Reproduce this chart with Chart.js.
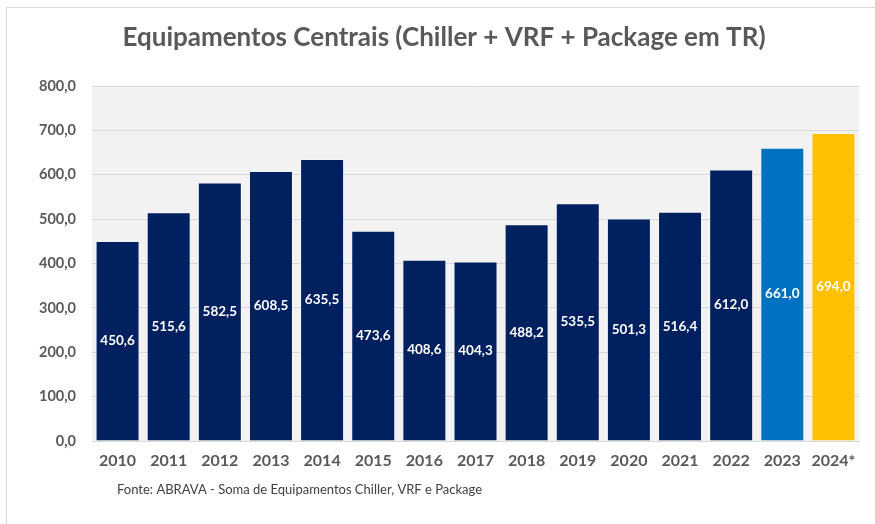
<!DOCTYPE html>
<html>
<head>
<meta charset="utf-8">
<script src="https://cdn.jsdelivr.net/npm/chart.js@4"></script>
<style>
  html, body { margin: 0; padding: 0; background: #ffffff; }
  #wrap { position: relative; width: 875px; height: 524px; overflow: hidden; }
  #frame {
    position: absolute; left: 6px; top: 7px; width: 900px; height: 600px;
    border-left: 1px solid #d9d9d9; border-top: 1px solid #d9d9d9;
  }
  canvas { position: absolute; left: 0; top: 0; }
</style>
</head>
<body>
<div id="wrap">
  <div id="frame"></div>
  <canvas id="equipamentos" width="875" height="524"></canvas>
</div>
<script>
// Categories and values (TR)
const years = ["2010", "2011", "2012", "2013", "2014", "2015", "2016", "2017",
  "2018", "2019", "2020", "2021", "2022", "2023", "2024*"];
const values = [450.6, 515.6, 582.5, 608.5, 635.5, 473.6, 408.6, 404.3,
  488.2, 535.5, 501.3, 516.4, 612.0, 661.0, 694.0];
const barColors = ["#002060", "#002060", "#002060", "#002060", "#002060",
  "#002060", "#002060", "#002060", "#002060", "#002060", "#002060",
  "#002060", "#002060", "#0070c0", "#ffc000"];

const titleText = "Equipamentos Centrais (Chiller + VRF + Package em TR)";
const sourceText = "Fonte: ABRAVA - Soma de Equipamentos Chiller, VRF e Package";

const fmt = (v) => Number(v).toFixed(1).replace(".", ",");
const FONT = "Lato, 'Open Sans', sans-serif";

// plot background, title, footnote and value labels
const decorations = {
  id: "decorations",
  beforeDraw(chart) {
    const { ctx, chartArea: a } = chart;
    ctx.save();
    ctx.fillStyle = "#f2f2f2";
    ctx.fillRect(a.left, a.top, a.right - a.left, a.bottom - a.top);
    ctx.restore();
  },
  afterDraw(chart) {
    const { ctx } = chart;
    ctx.save();
    ctx.fillStyle = "#595959";
    ctx.font = "bold 26px " + FONT;
    ctx.textAlign = "center";
    ctx.textBaseline = "middle";
    ctx.fillText(titleText, 444, 38);
    ctx.fillStyle = "#404040";
    ctx.font = "13px " + FONT;
    ctx.textAlign = "left";
    ctx.fillText(sourceText, 117, 490);
    ctx.restore();
  },
  afterDatasetsDraw(chart) {
    const { ctx } = chart;
    const meta = chart.getDatasetMeta(0);
    ctx.save();
    ctx.fillStyle = "#ffffff";
    ctx.font = "bold 13.5px " + FONT;
    ctx.textAlign = "center";
    ctx.textBaseline = "middle";
    meta.data.forEach((bar, i) => {
      ctx.fillText(fmt(values[i]), bar.x, (bar.y + bar.base) / 2);
    });
    ctx.restore();
  },
};

new Chart(document.getElementById("equipamentos"), {
  type: "bar",
  data: {
    labels: years,
    datasets: [
      {
        data: values,
        backgroundColor: barColors,
        borderColor: "rgba(255,255,255,0.25)",
        borderWidth: 1,
        barPercentage: 0.86,
        categoryPercentage: 1,
      },
    ],
  },
  options: {
    responsive: false,
    animation: false,
    layout: { padding: { top: 86, right: 16, bottom: 42, left: 0 } },
    plugins: {
      legend: { display: false },
      title: { display: false },
      tooltip: { enabled: false },
    },
    scales: {
      x: {
        grid: { display: false, drawTicks: false },
        border: { display: true, color: "#d9d9d9", width: 1 },
        ticks: {
          color: "#595959",
          font: { family: FONT, size: 16, weight: "bold" },
          padding: 10,
        },
        afterFit(scale) { scale.height = 41; },
      },
      y: {
        min: 0,
        max: 800,
        ticks: {
          stepSize: 100,
          color: "#595959",
          font: { family: FONT, size: 14.5, weight: "bold" },
          padding: 16,
          callback: (v) => fmt(v),
        },
        grid: { color: "#d9d9d9", lineWidth: 1, drawTicks: false },
        border: { display: false },
        afterFit(scale) { scale.width = 92; },
      },
    },
  },
  plugins: [decorations],
});
</script>
</body>
</html>
